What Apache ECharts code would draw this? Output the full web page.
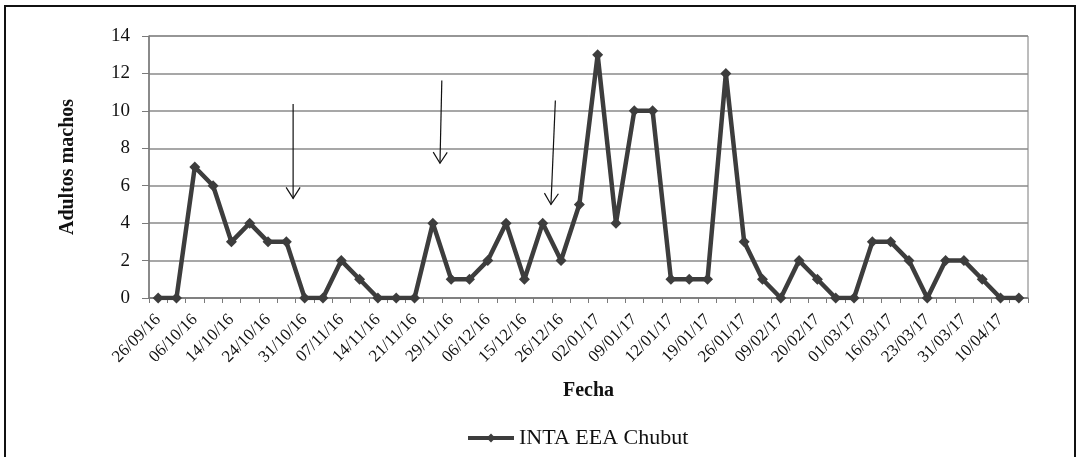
<!DOCTYPE html>
<html>
<head>
<meta charset="utf-8">
<script src="https://cdn.jsdelivr.net/npm/echarts@6/dist/echarts.min.js"></script>
<style>
html,body{margin:0;padding:0;background:#fff;}
#frame{position:absolute;left:4px;top:5px;width:1072px;height:460px;border:2px solid #111;box-sizing:border-box;}
#chart{position:absolute;left:0;top:0;width:1078px;height:457px;}
</style>
</head>
<body>
<div id="frame"></div>
<div id="chart"></div>
<script>
// 48 sampling dates; only every other one is labelled in the reference
const tickLabels = ["26/09/16","06/10/16","14/10/16","24/10/16","31/10/16","07/11/16","14/11/16","21/11/16",
  "29/11/16","06/12/16","15/12/16","26/12/16","02/01/17","09/01/17","12/01/17","19/01/17","26/01/17",
  "09/02/17","20/02/17","01/03/17","16/03/17","23/03/17","31/03/17","10/04/17"];
const categories = [];
tickLabels.forEach(function (t) { categories.push(t); categories.push(""); });
const adultosMachos = [0,0,7,6,3,4,3,3,0,0,2,1,0,0,0,4,1,1,2,4,1,4,2,5,13,4,10,10,1,1,1,12,3,1,0,2,1,0,0,3,3,2,0,2,2,1,0,0];
const seriesName = "INTA EEA Chubut";
// annotation arrows: [xIndex, yTop, xIndex, yBottom] in data units
const arrows = [[7.37,10.37,7.37,5.32],[15.49,11.62,15.39,7.2],[21.69,10.55,21.45,5.0]];

const serif = "'Liberation Serif','DejaVu Serif',serif";
const chart = echarts.init(document.getElementById('chart'), null, {renderer:'canvas'});
chart.setOption({
  animation:false,
  backgroundColor:'transparent',
  grid:{left:149,right:50,top:36,bottom:159,show:true,borderColor:'#7a7a7a',borderWidth:1},
  legend:{
    data:[seriesName], left:461, top:422, itemWidth:46, itemHeight:11, itemGap:2,
    lineStyle:{width:4,color:'#3d3d3d'},
    textStyle:{fontFamily:serif,fontSize:22,color:'#111'}
  },
  xAxis:{
    type:'category', data:categories, boundaryGap:true,
    name:'Fecha', nameLocation:'middle', nameGap:83,
    nameTextStyle:{fontFamily:serif,fontSize:20,fontWeight:'bold',color:'#111'},
    axisLine:{lineStyle:{color:'#7a7a7a',width:1.5}},
    axisTick:{show:true,interval:0,length:5,lineStyle:{color:'#7a7a7a'}},
    axisLabel:{interval:1,rotate:45,margin:19,fontFamily:serif,fontSize:17,color:'#111'},
    splitLine:{show:false}
  },
  yAxis:{
    type:'value', min:0, max:14, interval:2,
    name:'Adultos machos', nameLocation:'middle', nameGap:71, nameRotate:90,
    nameTextStyle:{fontFamily:serif,fontSize:20,fontWeight:'bold',color:'#111'},
    axisLine:{show:true,lineStyle:{color:'#7a7a7a',width:1.5}},
    axisTick:{show:true,length:7,inside:false,lineStyle:{color:'#7a7a7a'}},
    axisLabel:{margin:19,fontFamily:serif,fontSize:19,color:'#111'},
    splitLine:{show:true,lineStyle:{color:'#8a8a8a',width:1.5}}
  },
  series:[{
    name:seriesName, type:'line', data:adultosMachos,
    symbol:'diamond', symbolSize:11, showAllSymbol:true,
    lineStyle:{color:'#3d3d3d',width:4.5},
    itemStyle:{color:'#3d3d3d'}
  }]
});

// pixel position of a fractional category index, via the chart's own scale
function toPx(xi, y) {
  const i0 = Math.floor(xi), f = xi - i0;
  const a = chart.convertToPixel({gridIndex:0},[i0,y]);
  const b = chart.convertToPixel({gridIndex:0},[i0+1,y]);
  return [a[0] + f*(b[0]-a[0]), a[1]];
}
const g = [];
arrows.forEach(function (a) {
  const p1 = toPx(a[0],a[1]);
  const p2 = toPx(a[2],a[3]);
  const dx = p2[0]-p1[0], dy = p2[1]-p1[1];
  const len = Math.sqrt(dx*dx+dy*dy), ux = dx/len, uy = dy/len;
  const hl = 11, hw = 7;
  const bx = p2[0]-ux*hl, by = p2[1]-uy*hl;
  g.push({type:'line',shape:{x1:p1[0],y1:p1[1],x2:p2[0],y2:p2[1]},style:{stroke:'#111',lineWidth:1.2},z:100});
  g.push({type:'polyline',shape:{points:[[bx-uy*hw,by+ux*hw],[p2[0],p2[1]],[bx+uy*hw,by-ux*hw]]},style:{stroke:'#111',lineWidth:1.2,fill:null},z:100});
});
chart.setOption({graphic:g});
</script>
</body>
</html>
